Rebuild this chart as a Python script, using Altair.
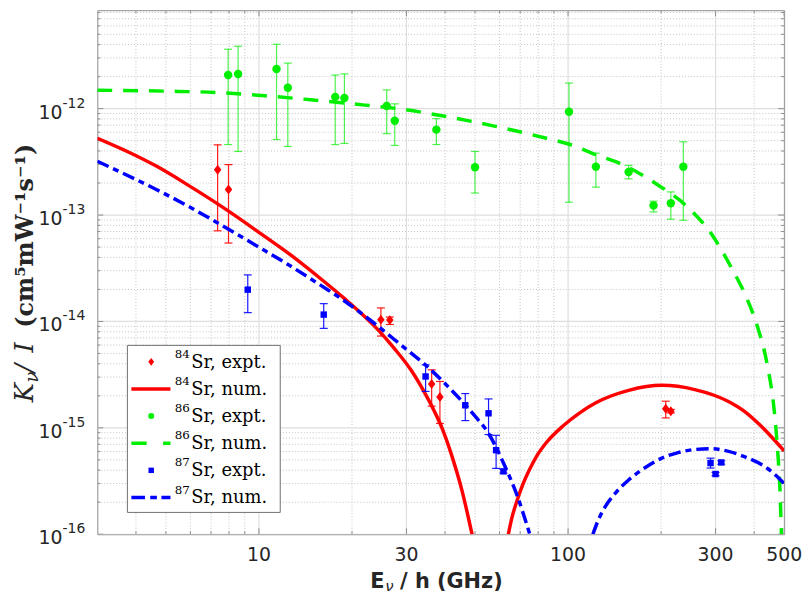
import altair as alt
import pandas as pd

# ---------------- data ----------------
# 84Sr experiment (x in GHz, y value, lower / upper error bound)
sr84_x = [7.35, 7.97, 24.8, 26.5, 36.2, 38.5, 207, 215]
sr84_y = [2.67e-13, 1.74e-13, 1.04e-14, 1.03e-14, 2.58e-15, 1.95e-15, 1.51e-15, 1.43e-15]
sr84_lo = [7.11e-14, 5.46e-14, 7.29e-15, 9.37e-15, 1.60e-15, 1.10e-15, 1.24e-15, 1.38e-15]
sr84_hi = [4.57e-13, 2.98e-13, 1.34e-14, 1.10e-14, 3.51e-15, 2.73e-15, 1.78e-15, 1.49e-15]

# 86Sr experiment
sr86_x = [7.95, 8.56, 11.4, 12.4, 17.65, 18.9, 25.9, 27.5, 37.5, 50.0, 100.7, 123, 157, 189, 215, 236]
sr86_y = [2.07e-12, 2.12e-12, 2.36e-12, 1.57e-12, 1.29e-12, 1.26e-12, 1.06e-12, 7.71e-13,
          6.35e-13, 2.81e-13, 9.35e-13, 2.85e-13, 2.54e-13, 1.23e-13, 1.29e-13, 2.85e-13]
sr86_lo = [4.60e-13, 3.96e-13, 5.13e-13, 4.41e-13, 4.60e-13, 4.71e-13, 5.83e-13, 4.51e-13,
           4.60e-13, 1.61e-13, 1.32e-13, 1.83e-13, 2.19e-13, 1.07e-13, 9.14e-14, 8.94e-14]
sr86_hi = [3.62e-12, 3.86e-12, 4.03e-12, 2.68e-12, 2.07e-12, 2.12e-12, 1.50e-12, 1.11e-12,
           8.05e-13, 3.96e-13, 1.74e-12, 3.82e-13, 2.93e-13, 1.35e-13, 1.65e-13, 4.88e-13]

# 87Sr experiment
sr87_x = [9.20, 16.2, 34.6, 46.5, 55.3, 58.5, 61.8, 289, 300, 313]
sr87_y = [1.99e-14, 1.16e-14, 3.04e-15, 1.63e-15, 1.37e-15, 6.17e-16, 3.90e-16, 4.67e-16, 3.68e-16, 4.73e-16]
sr87_lo = [1.21e-14, 8.61e-15, 2.20e-15, 1.17e-15, 8.64e-16, 4.16e-16, 3.75e-16, 4.19e-16, 3.55e-16, 4.55e-16]
sr87_hi = [2.74e-14, 1.47e-14, 3.91e-15, 2.10e-15, 1.87e-15, 8.51e-16, 4.05e-16, 5.19e-16, 3.81e-16, 4.90e-16]

# numerical curves (two branches where the curve dips to zero)
red_x1 = [3.0, 3.9, 4.67, 5.97, 7.82, 10, 12.5, 15.95, 18.96, 21.4, 24.25, 27.4, 31.0, 34.2, 36.9,
          39.2, 42.2, 45.4, 48.9]
red_y1 = [5.27e-13, 3.75e-13, 2.87e-13, 1.87e-13, 1.13e-13, 6.88e-14, 4.34e-14, 2.48e-14, 1.63e-14,
          1.195e-14, 8.38e-15, 5.58e-15, 3.51e-15, 2.19e-15, 1.44e-15, 9.79e-16, 5.31e-16, 2.56e-16, 1.0e-16]
red_x2 = [64.1, 65.7, 68.1, 71.2, 75.2, 79.5, 85.1, 96.2, 108.5, 123, 157, 201, 257, 329, 372, 421, 500]
red_y2 = [1.0e-16, 1.40e-16, 2.0e-16, 2.88e-16, 4.10e-16, 5.54e-16, 7.28e-16, 1.04e-15, 1.37e-15,
          1.72e-15, 2.25e-15, 2.51e-15, 2.29e-15, 1.78e-15, 1.43e-15, 1.04e-15, 6.08e-16]

green_x = [3.0, 5.02, 7.26, 10.5, 15.2, 22.0, 28.1, 40.6, 58.8, 85.1, 101, 123, 150, 191, 245, 291,
           337, 381, 410, 442, 464, 476, 485, 490]
green_y = [1.49e-12, 1.46e-12, 1.42e-12, 1.32e-12, 1.20e-12, 1.08e-12, 1.00e-12, 8.40e-13, 6.78e-13,
           5.27e-13, 4.63e-13, 3.69e-13, 2.98e-13, 2.0e-13, 1.17e-13, 6.62e-14, 3.23e-14, 1.58e-14,
           8.91e-15, 3.77e-15, 1.49e-15, 6.31e-16, 2.50e-16, 1.0e-16]

blue_x1 = [3.0, 4.67, 5.97, 7.82, 10, 12.5, 15.95, 18.96, 21.4, 24.25, 27.4, 31.0, 35.1, 39.7, 44.8,
           50.1, 54.6, 58.5, 61.8, 68.1, 75.2]
blue_y1 = [3.20e-13, 1.73e-13, 1.19e-13, 7.58e-14, 4.99e-14, 3.39e-14, 2.16e-14, 1.55e-14, 1.195e-14,
           9.04e-15, 6.77e-15, 5.06e-15, 3.75e-15, 2.66e-15, 1.85e-15, 1.28e-15, 9.38e-16, 6.58e-16,
           4.67e-16, 2.40e-16, 1.0e-16]
blue_x2 = [120.3, 125.8, 132.4, 142.5, 157, 177.8, 201, 226.9, 257, 291, 328, 372, 442, 500]
blue_y2 = [1.0e-16, 1.40e-16, 1.85e-16, 2.45e-16, 3.24e-16, 4.24e-16, 5.19e-16, 5.85e-16, 6.26e-16,
           6.37e-16, 6.04e-16, 5.36e-16, 4.15e-16, 3.0e-16]

# axis ticks / labels
x_major = [10, 30, 100, 300, 500]
x_major_text = ["10", "30", "100", "300", "500"]
x_minor = [4, 5, 6, 7, 8, 9, 20, 40, 50, 60, 70, 80, 90, 200, 400]
y_major = [1e-16, 1e-15, 1e-14, 1e-13, 1e-12]
y_major_exp = ["-16", "-15", "-14", "-13", "-12"]
y_minor_mult = [2, 3, 4, 5, 6, 7, 8, 9]
y_minor = [m * d for d in y_major for m in y_minor_mult]

legend_iso = ["84", "84", "86", "86", "87", "87"]
legend_kind = ["Sr, expt.", "Sr, num.", "Sr, expt.", "Sr, num.", "Sr, expt.", "Sr, num."]

# ---------------- layout / style ----------------
W, H = 692, 528
RED, GREEN, BLUE = "#ff0000", "#00ee00", "#0000ff"
AXC = "#8c8c8c"
TXT = "#262626"
DIAMOND = "M0,-1L0.75,0L0,1L-0.75,0Z"
GREEN_DASH = [15, 11]
BLUE_DASH = [12.5, 5, 6, 5]

xs = alt.Scale(type="log", domain=[3, 500], nice=False)
ys = alt.Scale(type="log", domain=[1e-16, 8.42e-12], nice=False)


def X(f):
    return alt.X(f, type="quantitative", scale=xs, axis=None)


def Y(f):
    return alt.Y(f, type="quantitative", scale=ys, axis=None)


one = pd.DataFrame({"a": [0]})
layers = []

# grid
layers.append(alt.Chart(pd.DataFrame({"v": x_minor})).mark_rule(
    color="#c4c4c4", strokeWidth=1, strokeDash=[1, 2], clip=True).encode(x=X("v")))
layers.append(alt.Chart(pd.DataFrame({"v": y_minor})).mark_rule(
    color="#c4c4c4", strokeWidth=1, strokeDash=[1, 2], clip=True).encode(y=Y("v")))
layers.append(alt.Chart(pd.DataFrame({"v": x_major})).mark_rule(
    color="#dedede", strokeWidth=1.2, clip=True).encode(x=X("v")))
layers.append(alt.Chart(pd.DataFrame({"v": y_major})).mark_rule(
    color="#dedede", strokeWidth=1.2, clip=True).encode(y=Y("v")))

# inward ticks on all four sides
for vals, ln in ((x_major, 6), (x_minor, 3)):
    d = pd.DataFrame({"v": vals})
    layers.append(alt.Chart(d).mark_rule(color=AXC, strokeWidth=1, clip=True).encode(
        x=X("v"), y=alt.value(H), y2=alt.value(H - ln)))
    layers.append(alt.Chart(d).mark_rule(color=AXC, strokeWidth=1, clip=True).encode(
        x=X("v"), y=alt.value(0), y2=alt.value(ln)))
for vals, ln in ((y_major, 6), (y_minor, 3)):
    d = pd.DataFrame({"v": vals})
    layers.append(alt.Chart(d).mark_rule(color=AXC, strokeWidth=1, clip=True).encode(
        y=Y("v"), x=alt.value(0), x2=alt.value(ln)))
    layers.append(alt.Chart(d).mark_rule(color=AXC, strokeWidth=1, clip=True).encode(
        y=Y("v"), x=alt.value(W), x2=alt.value(W - ln)))


def expt_layers(x, y, lo, hi, color, shape, size, eop):
    df = pd.DataFrame({"x": x, "y": y, "lo": lo, "hi": hi})
    return [
        alt.Chart(df).mark_rule(color=color, strokeWidth=1.2, opacity=eop).encode(
            x=X("x"), y=Y("lo"), y2="hi"),
        alt.Chart(df).mark_tick(orient="horizontal", size=8, thickness=1.2, color=color,
                                opacity=eop).encode(x=X("x"), y=Y("lo")),
        alt.Chart(df).mark_tick(orient="horizontal", size=8, thickness=1.2, color=color,
                                opacity=eop).encode(x=X("x"), y=Y("hi")),
        alt.Chart(df).mark_point(shape=shape, filled=True, size=size, color=color,
                                 opacity=1, strokeWidth=0).encode(x=X("x"), y=Y("y")),
    ]


def curve_layer(segs, color, dash):
    rows = []
    for i, (sx, sy) in enumerate(segs):
        for a, b in zip(sx, sy):
            rows.append({"x": a, "y": b, "seg": i})
    df = pd.DataFrame(rows)
    kw = dict(color=color, strokeWidth=3.5, clip=True, interpolate="monotone", strokeCap="butt")
    if dash:
        kw["strokeDash"] = dash
    return alt.Chart(df).mark_line(**kw).encode(x=X("x"), y=Y("y"), detail="seg:N")


layers += expt_layers(sr84_x, sr84_y, sr84_lo, sr84_hi, RED, DIAMOND, 100, 0.9)
layers.append(curve_layer([(red_x1, red_y1), (red_x2, red_y2)], RED, None))
layers += expt_layers(sr86_x, sr86_y, sr86_lo, sr86_hi, GREEN, "circle", 72, 0.7)
layers.append(curve_layer([(green_x, green_y)], GREEN, GREEN_DASH))
layers += expt_layers(sr87_x, sr87_y, sr87_lo, sr87_hi, BLUE, "square", 42, 0.9)
layers.append(curve_layer([(blue_x1, blue_y1), (blue_x2, blue_y2)], BLUE, BLUE_DASH))

# tick labels
layers.append(alt.Chart(pd.DataFrame({"v": x_major, "t": x_major_text})).mark_text(
    align="center", baseline="alphabetic", font="DejaVu Sans", fontSize=19, color=TXT).encode(
    x=X("v"), y=alt.value(555), text="t:N"))
layers.append(alt.Chart(pd.DataFrame({"v": y_major, "t": y_major_exp})).mark_text(
    align="right", baseline="alphabetic", font="DejaVu Sans", fontSize=19, color=TXT, dy=10).encode(
    y=Y("v"), x=alt.value(-35), text=alt.value("10")))
layers.append(alt.Chart(pd.DataFrame({"v": y_major, "t": y_major_exp})).mark_text(
    align="left", baseline="alphabetic", font="DejaVu Sans", fontSize=14, color=TXT, dy=-1).encode(
    y=Y("v"), x=alt.value(-35), text="t:N"))

# legend
layers.append(alt.Chart(one).mark_rect(fill="white", stroke="#707070", strokeWidth=1).encode(
    x=alt.value(30.3), x2=alt.value(184.3), y=alt.value(337.7), y2=alt.value(506)))
row_base = [360.3 + 27.33 * i for i in range(6)]
for i in range(6):
    layers.append(alt.Chart(one).mark_text(
        align="left", baseline="alphabetic", font="DejaVu Serif", fontSize=12, color="black").encode(
        x=alt.value(78), y=alt.value(row_base[i] - 10), text=alt.value(legend_iso[i])))
    layers.append(alt.Chart(one).mark_text(
        align="left", baseline="alphabetic", font="DejaVu Serif", fontSize=18, color="black").encode(
        x=alt.value(94.7), y=alt.value(row_base[i]), text=alt.value(legend_kind[i])))
sym = [(DIAMOND, 64, RED), ("circle", 36, GREEN), ("square", 30, BLUE)]
for k, (shp, sz, col) in enumerate(sym):
    layers.append(alt.Chart(one).mark_point(shape=shp, filled=True, size=sz, color=col,
                                            opacity=1, strokeWidth=0).encode(
        x=alt.value(54.3), y=alt.value(row_base[2 * k] - 6)))
lines = [(RED, None), (GREEN, [15.4, 16.6]), (BLUE, [13.7, 5.3, 6.7, 4.6])]
for k, (col, dash) in enumerate(lines):
    kw = dict(color=col, strokeWidth=3.5, strokeCap="butt")
    if dash:
        kw["strokeDash"] = dash
    yy = row_base[2 * k + 1] - 6
    layers.append(alt.Chart(one).mark_rule(**kw).encode(
        x=alt.value(34.3), x2=alt.value(73.7), y=alt.value(yy)))

# y-axis title pieces (rotated)
ytitle = [
    ("K", 26, "italic", "normal", -65, 395),
    ("ν", 18, "italic", "normal", -60, 375),
    ("/", 26, "italic", "normal", -65, 365),
    ("I", 26, "italic", "normal", -65, 345),
    ("(cm⁵mW⁻¹s⁻¹)", 24, "normal", "bold", -65, 320),
]
for t, fs, st, wt, xx, yy in ytitle:
    layers.append(alt.Chart(one).mark_text(
        align="left", baseline="alphabetic", angle=270, font="DejaVu Serif", fontSize=fs,
        fontStyle=st, fontWeight=wt, color=TXT).encode(
        x=alt.value(xx), y=alt.value(yy), text=alt.value(t)))

# x-axis title pieces
xtitle = [
    ("E", 21, "normal", "bold", 275, 582),
    ("ν", 15, "italic", "normal", 290, 585),
    ("/ h (GHz)", 21, "normal", "bold", 305, 582),
]
for t, fs, st, wt, xx, yy in xtitle:
    layers.append(alt.Chart(one).mark_text(
        align="left", baseline="alphabetic", font="DejaVu Sans", fontSize=fs,
        fontStyle=st, fontWeight=wt, color=TXT).encode(
        x=alt.value(xx), y=alt.value(yy), text=alt.value(t)))

chart = alt.layer(*layers).properties(
    width=W, height=H,
    padding={"left": 90, "top": 0, "right": 18, "bottom": 61},
    autosize=alt.AutoSizeParams(type="none"),
    background="white",
).configure_view(stroke=AXC, strokeWidth=1)

chart.save("out.html", embed_options={"renderer": "svg", "actions": False})
